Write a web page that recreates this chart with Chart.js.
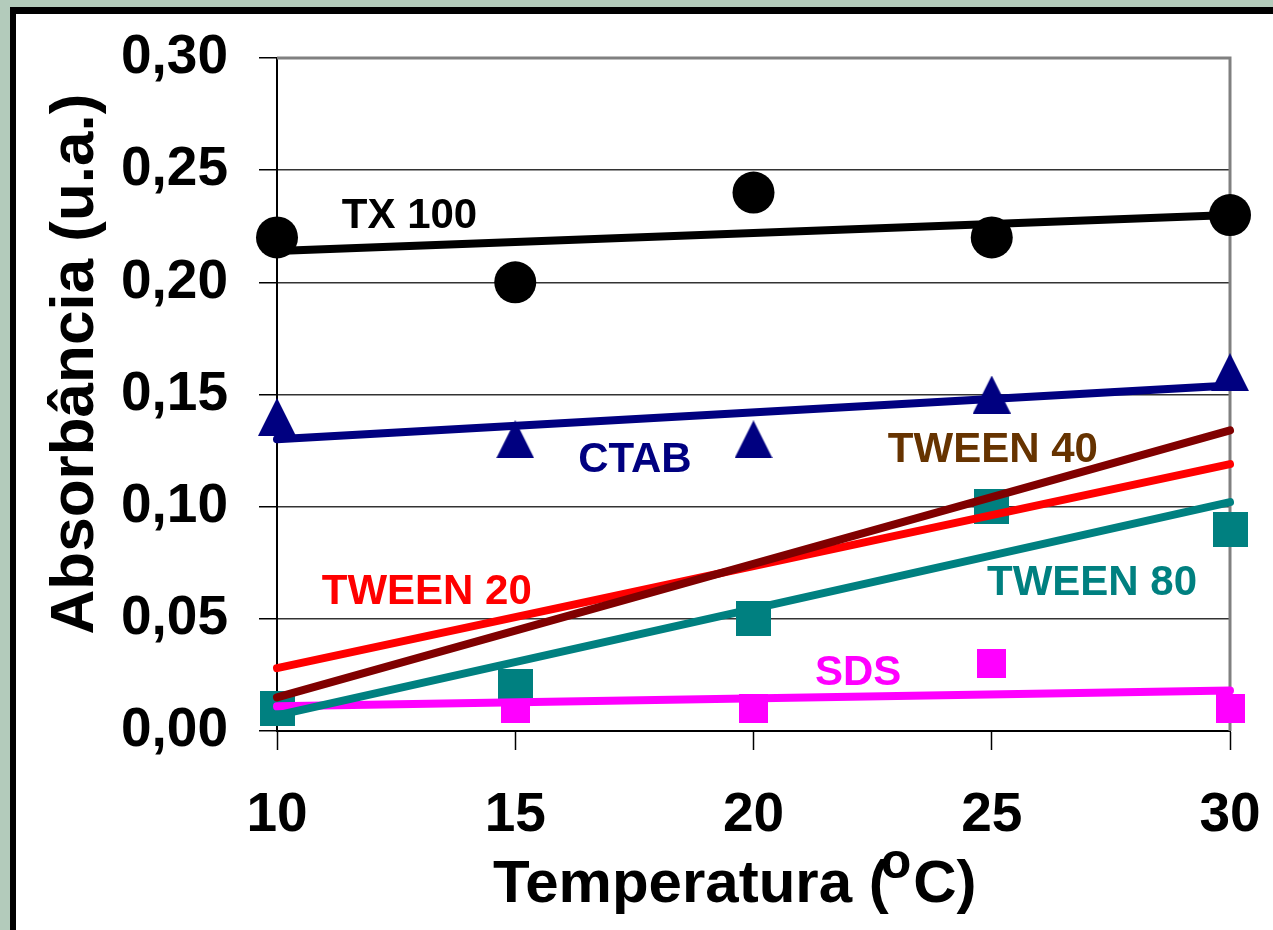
<!DOCTYPE html>
<html>
<head>
<meta charset="utf-8">
<script src="https://cdn.jsdelivr.net/npm/chart.js@4/dist/chart.umd.min.js"></script>
<style>
  html, body { margin: 0; padding: 0; background: #b3cbbb; overflow: hidden; }
  canvas { display: block; }
</style>
</head>
<body>
<canvas id="myChart" width="1273" height="930"></canvas>
<script>
'use strict';

/////// DATA ///////
const temps = [10, 15, 20, 25, 30];
const xTickLabels = ['10', '15', '20', '25', '30'];
const yTickValues = [0, 0.05, 0.10, 0.15, 0.20, 0.25, 0.30];
const yTickLabels = ['0,00', '0,05', '0,10', '0,15', '0,20', '0,25', '0,30'];

// measured points
const tx100 = [0.22, 0.20, 0.24, 0.22, 0.23];
const ctab = [0.14, 0.13, 0.13, 0.15, 0.16];
const tween80 = [0.01, 0.02, 0.05, 0.10, 0.09];
const sds = [0.01, 0.01, 0.01, 0.03, 0.01];

// trend lines (ends)
const fitX = [10, 30];
const tx100Fit = [0.214, 0.230];
const ctabFit = [0.130, 0.154];
const tween20Fit = [0.028, 0.119];
const tween40Fit = [0.015, 0.134];
const tween80Fit = [0.007, 0.102];
const sdsFit = [0.011, 0.018];

const FONT = '"Liberation Sans", Arial, sans-serif';

function pts(xs, ys) {
  return xs.map((x, i) => ({ x: x, y: ys[i] }));
}

// little canvases for the markers (excel centres them on the box)
function markerTriangle(size, color) {
  let c = document.createElement('canvas');
  c.width = size; c.height = size;
  let g = c.getContext('2d');
  g.fillStyle = color;
  g.beginPath();
  g.moveTo(size / 2, 0);
  g.lineTo(size, size);
  g.lineTo(0, size);
  g.closePath();
  g.fill();
  return c;
}

function markerSquare(size, color) {
  let c = document.createElement('canvas');
  c.width = size; c.height = size;
  let g = c.getContext('2d');
  g.fillStyle = color;
  g.fillRect(0, 0, size, size);
  return c;
}

function trend(label, ys, color) {
  return {
    label: label,
    data: pts(fitX, ys),
    showLine: true,
    borderColor: color,
    borderWidth: 8,
    borderCapStyle: 'round',
    pointRadius: 0,
    clip: false
  };
}

function marks(label, ys, style, color, radius) {
  return {
    label: label,
    data: pts(temps, ys),
    showLine: false,
    pointStyle: style,
    pointRadius: radius,
    backgroundColor: color,
    borderWidth: 0,
    clip: false
  };
}

function noPad(scale) {
  scale.paddingLeft = 0;
  scale.paddingRight = 0;
  scale.paddingTop = 0;
  scale.paddingBottom = 0;
}

/////// PLUGINS ///////
const frame = {
  id: 'frame',
  beforeDraw(chart) {
    const c = chart.ctx;
    c.save();
    c.fillStyle = '#b3cbbb';
    c.fillRect(0, 0, chart.width, chart.height);
    c.fillStyle = '#000';
    c.fillRect(10, 7, chart.width, chart.height);
    c.fillStyle = '#fff';
    c.fillRect(16, 14, chart.width, chart.height);
    c.restore();
  },
  beforeDatasetsDraw(chart) {
    // grey plot border on the top and right
    const a = chart.chartArea;
    const c = chart.ctx;
    c.save();
    c.strokeStyle = '#808080';
    c.lineWidth = 3;
    c.beginPath();
    c.moveTo(a.left, a.top);
    c.lineTo(a.right, a.top);
    c.lineTo(a.right, a.bottom);
    c.stroke();
    c.restore();
  }
};

const seriesLabels = [
  { text: 'TX 100', x: 11.36, y: 0.2243, color: '#000000' },
  { text: 'CTAB', x: 16.32, y: 0.1155, color: '#000080' },
  { text: 'TWEEN 40', x: 22.82, y: 0.120, color: '#663300' },
  { text: 'TWEEN 20', x: 10.94, y: 0.0568, color: '#ff0000' },
  { text: 'TWEEN 80', x: 24.90, y: 0.0606, color: '#008080' },
  { text: 'SDS', x: 21.29, y: 0.0205, color: '#ff00ff' }
];

const annotate = {
  id: 'annotate',
  afterDatasetsDraw(chart) {
    const c = chart.ctx;
    const xs = chart.scales.x;
    const ys = chart.scales.y;
    c.save();
    c.font = 'bold 42px ' + FONT;
    c.textAlign = 'left';
    c.textBaseline = 'alphabetic';
    seriesLabels.forEach(l => {
      c.fillStyle = l.color;
      c.fillText(l.text, xs.getPixelForValue(l.x), ys.getPixelForValue(l.y));
    });
    c.restore();
  },
  afterDraw(chart) {
    const c = chart.ctx;
    c.save();
    c.fillStyle = '#000';
    c.textBaseline = 'alphabetic';

    // y title
    c.save();
    c.translate(93, 364);
    c.rotate(-Math.PI / 2);
    c.textAlign = 'center';
    c.font = 'bold 62px ' + FONT;
    c.fillText('Absorbância (u.a.)', 0, 0);
    c.restore();

    // x title with superscript o
    c.textAlign = 'left';
    let x = 493;
    c.font = 'bold 60px ' + FONT;
    c.fillText('Temperatura (', x, 902);
    x += c.measureText('Temperatura (').width;
    c.font = 'bold 50px ' + FONT;
    c.fillText('o', x - 8, 878);
    x += c.measureText('o').width - 6;
    c.font = 'bold 60px ' + FONT;
    c.fillText('C)', x, 902);
    c.restore();
  }
};

/////// CHART ///////
const tri = markerTriangle(38, '#000080');
const sqTeal = markerSquare(35, '#008080');
const sqPink = markerSquare(29, '#ff00ff');

const data = {
  datasets: [
    trend('TX 100 fit', tx100Fit, '#000000'),
    trend('CTAB fit', ctabFit, '#000080'),
    trend('TWEEN 40 fit', tween40Fit, '#800000'),
    trend('TWEEN 20 fit', tween20Fit, '#ff0000'),
    trend('TWEEN 80 fit', tween80Fit, '#008080'),
    trend('SDS fit', sdsFit, '#ff00ff'),
    marks('TX 100', tx100, 'circle', '#000000', 21),
    marks('CTAB', ctab, tri, '#000080', 19),
    marks('TWEEN 80', tween80, sqTeal, '#008080', 18),
    marks('SDS', sds, sqPink, '#ff00ff', 15)
  ]
};

const ctx = document.getElementById('myChart');
const myChart = new Chart(ctx, {
  type: 'scatter',
  data: data,
  options: {
    responsive: false,
    animation: false,
    devicePixelRatio: 1,
    layout: { padding: { left: 16, top: 58, right: 43, bottom: 0 } },
    plugins: {
      legend: { display: false },
      tooltip: { enabled: false }
    },
    scales: {
      x: {
        type: 'linear',
        min: 10,
        max: 30,
        afterBuildTicks: scale => { scale.ticks = temps.map(v => ({ value: v })); },
        afterFit: scale => { scale.height = 199; noPad(scale); },
        ticks: {
          autoSkip: false,
          maxRotation: 0,
          padding: 33,
          color: '#000',
          font: { family: FONT, size: 55, weight: 'bold' },
          callback: (v, i) => xTickLabels[i]
        },
        grid: {
          drawOnChartArea: false,
          drawTicks: true,
          tickLength: 19,
          tickColor: '#000',
          tickWidth: 1.5
        },
        border: { display: true, color: '#000', width: 2 },
        title: { display: false }
      },
      y: {
        min: 0,
        max: 0.30,
        afterBuildTicks: scale => { scale.ticks = yTickValues.map(v => ({ value: v })); },
        afterFit: scale => { scale.width = 261; noPad(scale); },
        ticks: {
          autoSkip: false,
          padding: 31,
          color: '#000',
          font: { family: FONT, size: 55, weight: 'bold' },
          callback: (v, i) => yTickLabels[i]
        },
        grid: {
          drawTicks: true,
          tickLength: 18,
          tickColor: '#000',
          tickWidth: 1.5,
          color: c => (c.index === yTickValues.length - 1 ? 'rgba(0,0,0,0)' : '#333333'),
          lineWidth: 1.5
        },
        border: { display: true, color: '#000', width: 2 },
        title: { display: false }
      }
    }
  },
  plugins: [frame, annotate]
});
</script>
</body>
</html>
